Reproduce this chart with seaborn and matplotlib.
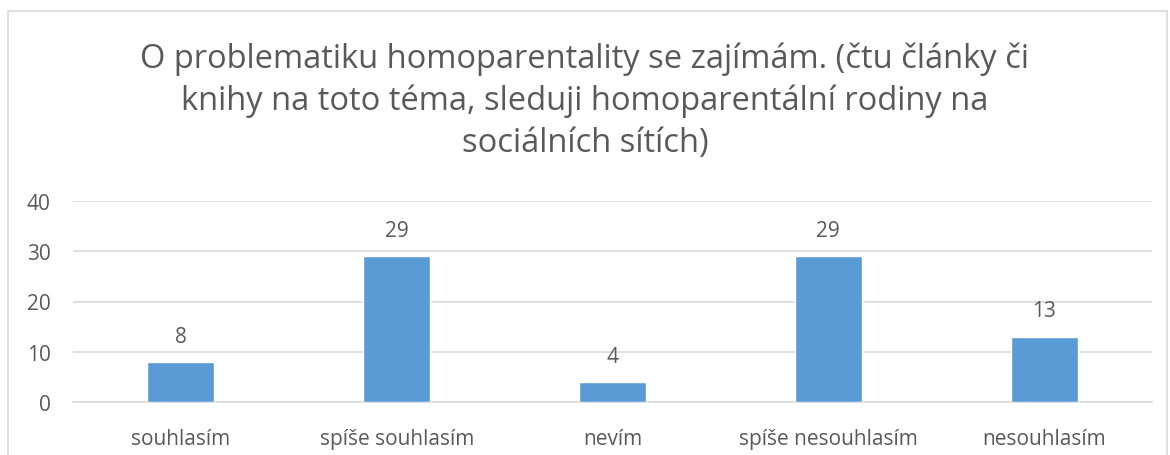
import numpy as np
import pandas as pd
import matplotlib.pyplot as plt
import seaborn as sns
from matplotlib.patches import Rectangle

# Chart data
categories = ["souhlasím", "spíše souhlasím", "nevím", "spíše nesouhlasím", "nesouhlasím"]
counts = [8, 29, 4, 29, 13]
y_ticks = [0, 10, 20, 30, 40]
title = ("O problematiku homoparentality se zajímám. (čtu články či\n"
         "knihy na toto téma, sleduji homoparentální rodiny na\n"
         "sociálních sítích)")

TEXT = "#595959"
GRID = "#D9D9D9"
BAR = "#5B9BD5"

sns.set_theme(style="white")
plt.rcParams["font.family"] = ["Open Sans", "DejaVu Sans"]

df = pd.DataFrame({"category": categories, "count": counts})

fig = plt.figure(figsize=(11.7, 4.56), dpi=100)
ax = fig.add_axes([73 / 1170, 1 - 403 / 456, (1152 - 73) / 1170, (403 - 202) / 456])

sns.barplot(data=df, x="category", y="count", color=BAR, width=0.31,
            saturation=1, ax=ax, zorder=3)

ax.set_ylim(0, 40)
ax.set_yticks(y_ticks)
ax.yaxis.grid(True, color=GRID, linewidth=1.2, zorder=0)
ax.set_axisbelow(True)
for s in ["top", "right", "left"]:
    ax.spines[s].set_visible(False)
ax.spines["bottom"].set_color(GRID)
ax.spines["bottom"].set_linewidth(1.2)
ax.set_xlabel("")
ax.set_ylabel("")
ax.tick_params(axis="both", length=0, labelsize=15, colors=TEXT)
ax.tick_params(axis="x", pad=19)
ax.tick_params(axis="y", pad=16)

for c in ax.containers:
    ax.bar_label(c, padding=11, fontsize=15, color=TEXT)

fig.text(0.5, 1 - 101 / 456, title, ha="center", va="center",
         fontsize=23.5, color=TEXT, linespacing=1.35)

# outer chart border
fig.patches.append(Rectangle((8 / 1170, -0.01), 1159 / 1170, 1 - 12 / 456 + 0.01,
                             transform=fig.transFigure, fill=False,
                             edgecolor=GRID, linewidth=1.2))

fig.savefig("out.png", dpi=100)
